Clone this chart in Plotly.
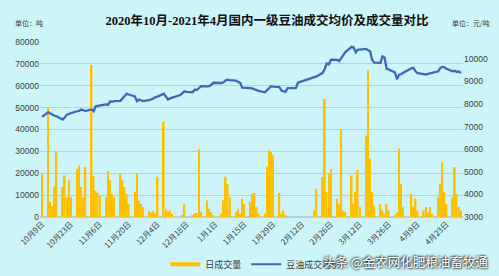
import plotly.graph_objects as go
from datetime import date

# trading days per month
days_2020_10 = [9, 12, 13, 14, 15, 16, 19, 20, 21, 22, 23, 26, 27, 28, 29, 30]
days_2020_11 = [2, 3, 4, 5, 6, 9, 10, 11, 12, 13, 16, 17, 18, 19, 20, 23, 24, 25, 26, 27, 30]
days_2020_12 = [1, 2, 3, 4, 7, 8, 9, 10, 11, 14, 15, 16, 17, 18, 21, 22, 23, 24, 25, 28, 29, 30, 31]
days_2021_01 = [4, 5, 6, 7, 8, 11, 12, 13, 14, 15, 18, 19, 20, 21, 22, 25, 26, 27, 28, 29]
days_2021_02 = [1, 2, 3, 4, 5, 8, 9, 10, 18, 19, 22, 23, 24, 25, 26]
days_2021_03 = [1, 2, 3, 4, 5, 8, 9, 10, 11, 12, 15, 16, 17, 18, 19, 22, 23, 24, 25, 26, 29, 30, 31]
days_2021_04 = [1, 2, 6, 7, 8, 9, 12, 13, 14, 15, 16, 19, 20, 21, 22, 23, 26, 27, 28, 29, 30]

# daily volume (tons)
vol_2020_10 = [20000, 50000, 7000, 5000, 13800, 29700, 13700, 19000, 9000, 16800, 9000, 22000, 23600, 13700, 9000, 22800]
vol_2020_11 = [69500, 18700, 12000, 11000, 10000, 9000, 21000, 16800, 10600, 9000, 19800, 16800, 13700, 10700, 6000, 11400, 20000, 7600, 6000, 4600, 2700]
vol_2020_12 = [2000, 2700, 1500, 18400, 43500, 3500, 2500, 3000, 1500, 0, 0, 800, 6000, 0, 800, 1500, 1800, 31000, 2300, 7600, 3800, 2300, 500]
vol_2021_01 = [1500, 7600, 18400, 15000, 9000, 2300, 3800, 1500, 8400, 6000, 7000, 10600, 11000, 4500, 1500, 1500, 23000, 30500, 29700, 28200]
vol_2021_02 = [11000, 1500, 3000, 800, 0, 0, 0, 0, 3000, 13000, 18300, 54000, 11400, 19800, 22000]
vol_2021_03 = [8400, 6000, 40000, 3000, 2300, 19000, 6000, 11400, 21300, 4600, 37300, 67000, 26600, 11400, 5300, 6000, 3000, 1500, 6000, 3000, 800, 2000, 31200]
vol_2021_04 = [15200, 4500, 10600, 4600, 8400, 3000, 3000, 4600, 2000, 4600, 1500, 9000, 15200, 25000, 11400, 6000, 9000, 22800, 10600, 4600, 3000]

# average price (yuan/ton)
price_2020_10 = [7430, 7640, 7580, 7520, 7480, 7460, 7310, 7400, 7530, 7560, 7600, 7680, 7700, 7760, 7720, 7690]
price_2020_11 = [7760, 7680, 7900, 7920, 7950, 7980, 7960, 8120, 8100, 8130, 8140, 8270, 8350, 8460, 8420, 8340, 8130, 8200, 8180, 8130, 8170]
price_2020_12 = [8200, 8250, 8310, 8330, 8460, 8330, 8200, 8250, 8280, 8340, 8400, 8480, 8560, 8540, 8520, 8640, 8620, 8700, 8790, 8780, 8790, 8850, 8940]
price_2021_01 = [8930, 8960, 9050, 9080, 9060, 9040, 8980, 8940, 8720, 8720, 8700, 8680, 8650, 8600, 8580, 8520, 8600, 8720, 8790, 8770]
price_2021_02 = [8750, 8600, 8560, 8540, 8700, 8720, 8700, 8940, 9160, 9220, 9380, 9550, 9800, 9750, 9960]
price_2021_03 = [9950, 9900, 10040, 10150, 10300, 10530, 10500, 10290, 10400, 10410, 10440, 10380, 10330, 9950, 9830, 9820, 10110, 10050, 9560, 9530, 9400, 9100, 9300]
price_2021_04 = [9320, 9380, 9580, 9600, 9450, 9370, 9320, 9300, 9330, 9360, 9380, 9450, 9600, 9640, 9620, 9560, 9450, 9470, 9420, 9440, 9370]

months = [
    (2020, 10, days_2020_10, vol_2020_10, price_2020_10),
    (2020, 11, days_2020_11, vol_2020_11, price_2020_11),
    (2020, 12, days_2020_12, vol_2020_12, price_2020_12),
    (2021, 1, days_2021_01, vol_2021_01, price_2021_01),
    (2021, 2, days_2021_02, vol_2021_02, price_2021_02),
    (2021, 3, days_2021_03, vol_2021_03, price_2021_03),
    (2021, 4, days_2021_04, vol_2021_04, price_2021_04),
]

dates, volume, price = [], [], []
for y, m, ds, vs, ps in months:
    assert len(ds) == len(vs) == len(ps)
    for d, v, p in zip(ds, vs, ps):
        dates.append(date(y, m, d).isoformat())
        volume.append(v)
        price.append(p)

title_text = "2020年10月-2021年4月国内一级豆油成交均价及成交量对比"
bar_name = "日成交量"
line_name = "豆油成交均价"

BG = "#CCF4F9"
BAR = "#FFC000"
LINE = "#4068B8"
GRID = "#B3D3D8"
TXT = "#404040"
CJK = "Noto Sans CJK SC, sans-serif"

fig = go.Figure()
fig.add_trace(go.Bar(x=dates, y=volume, name=bar_name, marker=dict(color=BAR, line=dict(width=0)),
                     showlegend=False, yaxis="y"))
fig.add_trace(go.Scatter(x=dates, y=price, name=line_name, mode="lines",
                         line=dict(color=LINE, width=2.3), yaxis="y2", showlegend=False))
# legend entries
fig.add_trace(go.Scatter(x=[None], y=[None], mode="lines", name=bar_name,
                         line=dict(color=BAR, width=4)))
fig.add_trace(go.Scatter(x=[None], y=[None], mode="lines", name=line_name,
                         line=dict(color=LINE, width=2)))

fig.update_layout(
    width=499, height=276,
    margin=dict(l=40, r=36, t=42, b=59, autoexpand=False),
    paper_bgcolor=BG, plot_bgcolor=BG,
    bargap=0.2,
    font=dict(family=CJK, size=9, color=TXT),
    title=dict(text=title_text, x=0.535, xanchor="center", xref="container",
               y=0.927, yanchor="middle",
               font=dict(family="Liberation Serif, Noto Sans CJK SC, serif", size=12.5, color="#111111", weight="bold")),
    xaxis=dict(type="date", range=["2020-10-08", "2021-05-01"], automargin=False,
               tick0="2020-10-09", dtick=14 * 86400000, tickformat="%-m月%-d日",
               tickangle=-45, tickfont=dict(size=8, color=TXT), showgrid=False,
               showline=False, ticks="", zeroline=False),
    yaxis=dict(range=[0, 80000], dtick=10000, showgrid=True, gridcolor=GRID, gridwidth=1,
               automargin=False,
               tickfont=dict(size=8.5, color=TXT, family="Liberation Sans, sans-serif"),
               zeroline=True, zerolinecolor=GRID, ticks="", tickformat="d"),
    yaxis2=dict(overlaying="y", side="right", range=[3000, 10745], automargin=False,
                tickvals=[3000, 4000, 5000, 6000, 7000, 8000, 9000, 10000],
                showgrid=False, zeroline=False, ticks="", tickformat="d",
                tickfont=dict(size=8.5, color=TXT, family="Liberation Sans, sans-serif")),
    legend=dict(orientation="h", x=0.51, xanchor="center", yref="container", y=0.043, yanchor="middle",
                bgcolor="rgba(0,0,0,0)", font=dict(size=9, color=TXT), itemwidth=30),
    showlegend=True,
)

fig.add_annotation(text="单位：吨", xref="paper", yref="paper", x=-0.064, y=1.11,
                   xanchor="left", yanchor="middle", showarrow=False, font=dict(size=7, color=TXT))
fig.add_annotation(text="单位：元/吨", xref="paper", yref="paper", x=0.969, y=1.11,
                   xanchor="left", yanchor="middle", showarrow=False, font=dict(size=7, color=TXT))
fig.add_annotation(text="头条 @金农网化肥粮油畜牧通", xref="paper", yref="paper", x=1.065, y=-0.255,
                   xanchor="right", yanchor="middle", showarrow=False,
                   font=dict(size=12.5, color="#FFFFFF", shadow="1px 1px 2px #222, -1px -1px 2px #222"))

fig.write_html("out.html")
